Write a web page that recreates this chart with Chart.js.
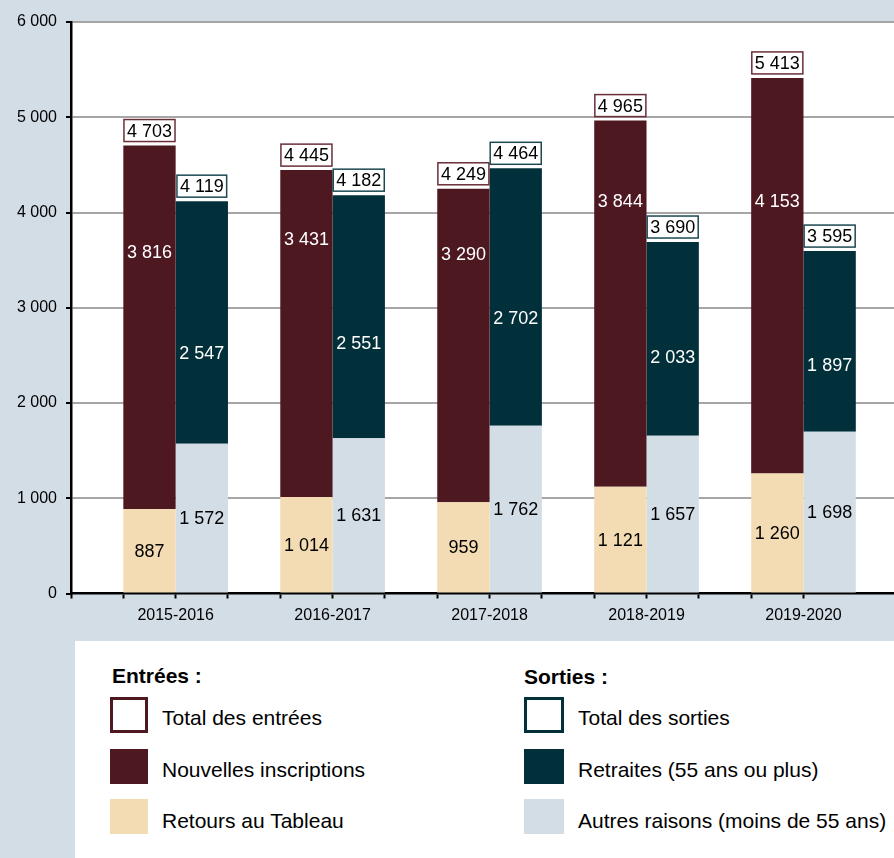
<!DOCTYPE html>
<html lang="fr">
<head>
<meta charset="utf-8">
<title>Entrées et sorties</title>
<script src="https://cdn.jsdelivr.net/npm/chart.js@4.4.0/dist/chart.umd.min.js"></script>
<style>
  html, body { margin: 0; padding: 0; background: #d3dde6; overflow: hidden; }
  body { width: 894px; height: 858px; position: relative; font-family: Arial, "Liberation Sans", sans-serif; color: #000; }
  #chart { position: absolute; left: 0; top: 0; }
  .legend { position: absolute; left: 75px; top: 641px; width: 819px; height: 217px; background: #fff; }
  .legend .head { position: absolute; font-weight: bold; font-size: 21px; line-height: 24px; }
  .legend .item { position: absolute; font-size: 21px; line-height: 24px; white-space: nowrap; }
  .legend .swatch { position: absolute; box-sizing: border-box; height: 36px; }
</style>
</head>
<body>
<canvas id="chart" width="894" height="640"></canvas>
<div class="legend">
  <div class="head" style="left:37px; top:23px;">Entrées :</div>
  <div class="swatch" style="left:35px; top:56px; width:38px; border:3px solid #4e1821; background:#fff;"></div>
  <div class="item" style="left:87px; top:65px;">Total des entrées</div>
  <div class="swatch" style="left:35px; top:108px; width:38px; height:35px; background:#4e1821;"></div>
  <div class="item" style="left:87px; top:117px;">Nouvelles inscriptions</div>
  <div class="swatch" style="left:35px; top:158px; width:38px; height:35px; background:#f3dbb3;"></div>
  <div class="item" style="left:87px; top:168px;">Retours au Tableau</div>

  <div class="head" style="left:449px; top:24px;">Sorties :</div>
  <div class="swatch" style="left:449px; top:56px; width:40px; border:3px solid #02303a; background:#fff;"></div>
  <div class="item" style="left:503px; top:65px;">Total des sorties</div>
  <div class="swatch" style="left:449px; top:108px; width:40px; height:35px; background:#02303a;"></div>
  <div class="item" style="left:503px; top:117px;">Retraites (55 ans ou plus)</div>
  <div class="swatch" style="left:449px; top:158px; width:40px; height:35px; background:#d3dde6;"></div>
  <div class="item" style="left:503px; top:168px;">Autres raisons (moins de 55 ans)</div>
</div>
<script>
const categories = ['2015-2016', '2016-2017', '2017-2018', '2018-2019', '2019-2020'];
const retours = [887, 1014, 959, 1121, 1260];
const nouvelles = [3816, 3431, 3290, 3844, 4153];
const autres = [1572, 1631, 1762, 1657, 1698];
const retraites = [2547, 2551, 2702, 2033, 1897];
const totalEntrees = [4703, 4445, 4249, 4965, 5413];
const totalSorties = [4119, 4182, 4464, 3690, 3595];
const yMax = 6000;
const yStep = 1000;
// heights (axis units) where the white labels sit in the original
const nouvellesLabelAt = [3590, 3724, 3566, 4116, 4116];
const retraitesLabelAt = [2526, 2631, 2894, 2481, 2400];

const FONT = 'Arial, "Liberation Sans", sans-serif';
const fmt = v => String(v).replace(/\B(?=(\d{3})+(?!\d))/g, ' ');

// each year takes 3 slots on the x axis: gap, entrées, sorties
const slot = i => 2 + 3 * i;
const toPoints = arr => arr.map((v, i) => ({ x: slot(i), y: v }));

const plotBg = {
  id: 'plotBg',
  beforeDraw(chart) {
    const { ctx, chartArea: a } = chart;
    ctx.save();
    ctx.fillStyle = '#fff';
    ctx.fillRect(a.left, a.top, a.right - a.left, a.bottom - a.top);
    ctx.restore();
  }
};

const barLabels = {
  id: 'barLabels',
  afterDatasetsDraw(chart) {
    const ctx = chart.ctx;
    const yScale = chart.scales.y;
    ctx.save();
    ctx.font = '18px ' + FONT;
    ctx.textAlign = 'center';
    ctx.textBaseline = 'middle';
    chart.data.datasets.forEach((ds, di) => {
      const meta = chart.getDatasetMeta(di);
      meta.data.forEach((bar, i) => {
        let y;
        if (ds.labelAt) {
          y = yScale.getPixelForValue(ds.labelAt[i]);
          ctx.fillStyle = '#fff';
        } else {
          y = (bar.y + bar.base) / 2;
          ctx.fillStyle = '#000';
        }
        ctx.fillText(fmt(ds.data[i].y), bar.x, y + 1);
      });
      if (ds.totals) {
        meta.data.forEach((bar, i) => {
          const txt = fmt(ds.totals[i]);
          const w = ctx.measureText(txt).width + 6;
          const h = 22;
          const bottom = bar.y - 4;
          ctx.fillStyle = '#fff';
          ctx.fillRect(bar.x - w / 2, bottom - h, w, h);
          ctx.lineWidth = 1.5;
          ctx.strokeStyle = ds.boxColor;
          ctx.strokeRect(bar.x - w / 2, bottom - h, w, h);
          ctx.fillStyle = '#000';
          ctx.fillText(txt, bar.x, bottom - h / 2 + 1);
        });
      }
    });
    ctx.restore();
  }
};

new Chart(document.getElementById('chart'), {
  type: 'bar',
  data: {
    datasets: [
      { label: 'Retours au Tableau', data: toPoints(retours), stack: 'E', backgroundColor: '#f3dbb3' },
      { label: 'Nouvelles inscriptions', data: toPoints(nouvelles), stack: 'E', backgroundColor: '#4e1821',
        labelAt: nouvellesLabelAt, totals: totalEntrees, boxColor: '#6a2f39' },
      { label: 'Autres raisons (moins de 55 ans)', data: toPoints(autres), stack: 'S', backgroundColor: '#d3dde6' },
      { label: 'Retraites (55 ans ou plus)', data: toPoints(retraites), stack: 'S', backgroundColor: '#02303a',
        labelAt: retraitesLabelAt, totals: totalSorties, boxColor: '#1d4852' }
    ]
  },
  options: {
    responsive: false,
    animation: false,
    devicePixelRatio: 1,
    layout: { padding: { top: 22, right: 0, bottom: 0, left: 0 } },
    // tick spacing is one slot, so 2 slots per year = both bars
    categoryPercentage: 2,
    barPercentage: 1,
    plugins: { legend: { display: false }, tooltip: { enabled: false } },
    scales: {
      x: {
        type: 'linear',
        min: 0,
        max: 15.73, // the original is cut off on the right
        offset: false,
        afterBuildTicks: s => { s.ticks = s.ticks.filter(t => Number.isInteger(t.value)); },
        afterFit: s => { s.height = 46.5; },
        grid: { offset: false, drawOnChartArea: false, drawTicks: true, tickLength: 5, tickColor: '#000', tickWidth: 2 },
        border: { color: '#000', width: 2.5 },
        ticks: {
          stepSize: 1,
          autoSkip: false,
          maxRotation: 0,
          padding: 7,
          color: '#000',
          font: { size: 16, family: FONT },
          callback: v => ((v - 2) % 3 === 0 ? categories[(v - 2) / 3] : '')
        }
      },
      y: {
        stacked: true,
        min: 0,
        max: yMax,
        afterFit: s => { s.width = 71; },
        grid: {
          color: c => (c.tick && c.tick.value === 0 ? 'rgba(0,0,0,0)' : '#a6a6a6'),
          lineWidth: 2,
          tickColor: '#000',
          tickLength: 5,
          tickWidth: 2
        },
        border: { color: '#000', width: 2.5 },
        ticks: { stepSize: yStep, padding: 9, color: '#000', font: { size: 16, family: FONT }, callback: v => fmt(v) }
      }
    }
  },
  plugins: [plotBg, barLabels]
});
</script>
</body>
</html>
